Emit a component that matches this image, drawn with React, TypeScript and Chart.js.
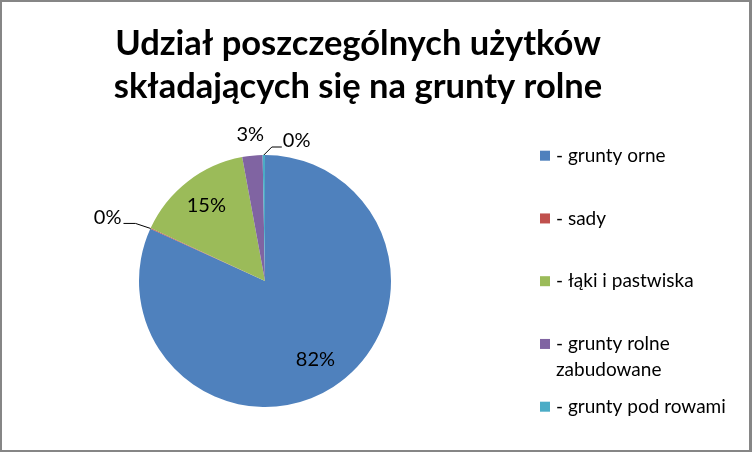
import React, { useEffect, useRef } from 'react';
import { Chart, ArcElement, PieController, type Plugin } from 'chart.js';

Chart.register(ArcElement, PieController);

// data (shares in %)
const categories = [
  '- grunty orne',
  '- sady',
  '- łąki i pastwiska',
  '- grunty rolne zabudowane',
  '- grunty pod rowami',
];
const legendLines = [
  ['- grunty orne'],
  ['- sady'],
  ['- łąki i pastwiska'],
  ['- grunty rolne', 'zabudowane'],
  ['- grunty pod rowami'],
];
const shares = [81.8, 0.1, 15.2, 2.6, 0.3];
const colors = ['#4F81BD', '#C0504D', '#9BBB59', '#8064A2', '#4BACC6'];
const titleLines = ['Udział poszczególnych użytków', 'składających się na grunty rolne'];

const FONT = 'Lato, "Open Sans", sans-serif';
const W = 747;
const H = 448;

type Placement =
  | { kind: 'inside'; r: number }
  | { kind: 'outside'; gap: number }
  | { kind: 'leader'; dx: number; dy: number; run: number };

const placements: Placement[] = [
  { kind: 'inside', r: 0.74 },
  { kind: 'leader', dx: -15, dy: -5, run: -12 },
  { kind: 'inside', r: 0.76 },
  { kind: 'outside', gap: 21 },
  { kind: 'leader', dx: 8, dy: -8, run: 10 },
];

const titlePlugin: Plugin<'pie'> = {
  id: 'excelTitle',
  afterDraw(chart) {
    const { ctx } = chart;
    ctx.save();
    ctx.font = `bold 34.5px ${FONT}`;
    ctx.fillStyle = '#000';
    ctx.textAlign = 'center';
    ctx.textBaseline = 'middle';
    titleLines.forEach((line, i) => ctx.fillText(line, 356, 42 + i * 43));
    ctx.restore();
  },
};

const legendPlugin: Plugin<'pie'> = {
  id: 'excelLegend',
  afterDraw(chart) {
    const { ctx } = chart;
    ctx.save();
    ctx.font = `19px ${FONT}`;
    ctx.textBaseline = 'middle';
    ctx.textAlign = 'left';
    legendLines.forEach((lines, i) => {
      const y = 153.7 + i * 62.75;
      ctx.fillStyle = colors[i];
      ctx.fillRect(538, y - 5, 10, 10);
      ctx.fillStyle = '#000';
      lines.forEach((t, j) => ctx.fillText(t, 554, y + j * 26));
    });
    ctx.restore();
  },
};

const labelPlugin: Plugin<'pie'> = {
  id: 'sliceLabels',
  afterDatasetsDraw(chart) {
    const { ctx } = chart;
    const values = chart.data.datasets[0].data as number[];
    const total = values.reduce((a, b) => a + b, 0);
    const meta = chart.getDatasetMeta(0);
    ctx.save();
    ctx.font = `20px ${FONT}`;
    ctx.fillStyle = '#000';
    ctx.strokeStyle = '#000';
    ctx.lineWidth = 1;
    meta.data.forEach((el, i) => {
      const { x, y, startAngle, endAngle, outerRadius } = (el as ArcElement).getProps(
        ['x', 'y', 'startAngle', 'endAngle', 'outerRadius'],
        true
      );
      const mid = (startAngle + endAngle) / 2;
      const cos = Math.cos(mid);
      const sin = Math.sin(mid);
      const text = Math.round((values[i] / total) * 100) + '%';
      const p = placements[i];
      if (p.kind === 'inside') {
        ctx.textAlign = 'center';
        ctx.textBaseline = 'middle';
        ctx.fillText(text, x + cos * outerRadius * p.r, y + sin * outerRadius * p.r);
      } else if (p.kind === 'outside') {
        const d = outerRadius + p.gap;
        ctx.textAlign = 'center';
        ctx.textBaseline = 'middle';
        ctx.fillText(text, x + cos * d, y + sin * d);
      } else {
        const ex = x + cos * outerRadius;
        const ey = y + sin * outerRadius;
        const kx = ex + p.dx;
        const ky = ey + p.dy;
        const tx = kx + p.run;
        ctx.beginPath();
        ctx.moveTo(ex, ey);
        ctx.lineTo(kx, ky);
        ctx.lineTo(tx, ky);
        ctx.stroke();
        ctx.textAlign = p.run < 0 ? 'right' : 'left';
        ctx.textBaseline = 'middle';
        ctx.fillText(text, tx + (p.run < 0 ? -2 : 1), ky - 6);
      }
    });
    ctx.restore();
  },
};

export default function App() {
  const canvasRef = useRef<HTMLCanvasElement | null>(null);
  const chartRef = useRef<Chart<'pie'> | null>(null);

  useEffect(() => {
    if (!canvasRef.current) return;
    document.body.style.margin = '0';

    chartRef.current = new Chart(canvasRef.current, {
      type: 'pie',
      data: {
        labels: categories,
        datasets: [
          {
            data: shares,
            backgroundColor: colors,
            borderWidth: 0,
          },
        ],
      },
      options: {
        responsive: false,
        animation: false,
        layout: { padding: { left: 137, right: 358, top: 153, bottom: 43 } },
        plugins: {
          legend: { display: false },
          title: { display: false },
          tooltip: { enabled: false },
        },
      },
      plugins: [labelPlugin, titlePlugin, legendPlugin],
    });

    return () => {
      chartRef.current?.destroy();
      chartRef.current = null;
    };
  }, []);

  return (
    <div
      style={{
        position: 'absolute',
        left: 0,
        top: 0,
        width: 752,
        height: 452,
        boxSizing: 'border-box',
        borderStyle: 'solid',
        borderColor: '#868686',
        borderWidth: '2px 3px 2px 2px',
        background: '#fff',
      }}
    >
      <canvas ref={canvasRef} width={W} height={H} style={{ display: 'block' }} />
    </div>
  );
}
